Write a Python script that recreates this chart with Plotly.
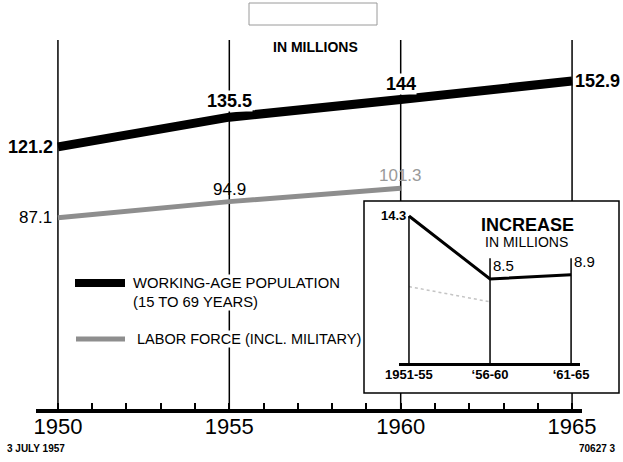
import plotly.graph_objects as go

# ---------------- data ----------------
years = [1950, 1955, 1960, 1965]
working_age = [121.2, 135.5, 144.0, 152.9]
labor_years = [1950, 1955, 1960]
labor_force = [87.1, 94.9, 101.3]
minor_years = list(range(1950, 1966))
year_labels = [str(y) if y % 5 == 0 else "" for y in minor_years]

periods = ["1951-55", "\u201856-60", "\u201861-65"]
working_increase = [14.3, 8.5, 8.9]
labor_increase = [7.8, 6.4]

# ---------------- layout helpers (pixel -> paper) ----------------
W, H = 623, 462
L, R, T, B = 36, 41, 40, 53
PW, PH = W - L - R, H - T - B


def px(x):
    return (x - L) / PW


def py(y):
    return (H - B - y) / PH


FONT = "Liberation Sans"
box_x0, box_x1, box_y0, box_y1 = px(364), px(619), py(393), py(201)

fig = go.Figure()

# main lines
fig.add_trace(go.Scatter(x=years, y=working_age, mode="lines",
                         line=dict(color="black", width=9), name="Working-age population",
                         hoverinfo="x+y"))
fig.add_trace(go.Scatter(x=labor_years, y=labor_force, mode="lines",
                         line=dict(color="#8e8e8e", width=5), name="Labor force",
                         hoverinfo="x+y"))

# inset lines
idx = list(range(len(periods)))
fig.add_trace(go.Scatter(x=idx[:len(labor_increase)], y=labor_increase, mode="lines",
                         xaxis="x2", yaxis="y2",
                         line=dict(color="#c4c4c4", width=1.5, dash="dot"), hoverinfo="y"))
fig.add_trace(go.Scatter(x=idx, y=working_increase, mode="lines",
                         xaxis="x2", yaxis="y2",
                         line=dict(color="black", width=3), hoverinfo="y"))

shapes = []
# inset white box
shapes.append(dict(type="rect", xref="paper", yref="paper", x0=box_x0, x1=box_x1,
                   y0=box_y0, y1=box_y1, line=dict(color="black", width=1.5),
                   fillcolor="white", layer="below"))
# empty header box
shapes.append(dict(type="rect", xref="paper", yref="paper", x0=px(249), x1=px(377),
                   y0=py(25), y1=py(3), line=dict(color="#9a9a9a", width=1)))
# main verticals
for yv in years:
    if yv < 1960:
        segs = [(0, 1)]
    else:
        segs = [(0, box_y0), (box_y1, 1)]
    for a, b in segs:
        shapes.append(dict(type="line", xref="x", yref="paper", x0=yv, x1=yv, y0=a, y1=b,
                           line=dict(color="black", width=1.5), layer="below"))
# inset verticals
inset_ymin = 0.77
for i, v in enumerate(working_increase):
    shapes.append(dict(type="line", xref="x2", yref="y2", x0=i, x1=i, y0=inset_ymin,
                       y1=max(v, 10.4), line=dict(color="black", width=1.5)))
# legend samples
shapes.append(dict(type="line", xref="paper", yref="paper", x0=px(75), x1=px(125),
                   y0=py(283), y1=py(283), line=dict(color="black", width=8)))
shapes.append(dict(type="line", xref="paper", yref="paper", x0=px(76), x1=px(125),
                   y0=py(339), y1=py(339), line=dict(color="#8e8e8e", width=5)))

ann = []
bold = dict(family=FONT, size=18, color="black", weight="bold")
reg = dict(family=FONT, size=17, color="black")


def note(x, y, text, font, xanchor="center", yanchor="middle", **kw):
    d = dict(xref="paper", yref="paper", x=px(x), y=py(y), text=text, font=font,
             xanchor=xanchor, yanchor=yanchor, showarrow=False)
    d.update(kw)
    ann.append(d)


# working-age labels
ann.append(dict(x=years[0], y=working_age[0], text="121.2", xanchor="right", yanchor="middle",
                xshift=-3, showarrow=False, font=bold))
ann.append(dict(x=years[1], y=working_age[1], text="135.5", xanchor="center", yanchor="bottom",
                yshift=5, showarrow=False, font=bold, bgcolor="white", borderpad=0))
ann.append(dict(x=years[2], y=working_age[2], text="144", xanchor="center", yanchor="bottom",
                yshift=4, showarrow=False, font=bold, bgcolor="white", borderpad=0))
ann.append(dict(x=years[3], y=working_age[3], text="152.9", xanchor="left", yanchor="middle",
                xshift=1, showarrow=False, font=bold))
# labor labels
ann.append(dict(x=labor_years[0], y=labor_force[0], text="87.1", xanchor="right", yanchor="middle",
                xshift=-4, showarrow=False, font=reg))
ann.append(dict(x=labor_years[1], y=labor_force[1], text="94.9", xanchor="center", yanchor="bottom",
                yshift=1, showarrow=False, font=reg))
ann.append(dict(x=labor_years[2], y=labor_force[2], text="101.3", xanchor="center", yanchor="bottom",
                yshift=1, showarrow=False, font=dict(family=FONT, size=17, color="#9a9a9a")))

# title
note(315, 47, "IN MILLIONS", dict(family=FONT, size=14, color="black", weight="bold"))
# legend text
note(132, 292, "WORKING-AGE POPULATION<br>(15 TO 69 YEARS)",
     dict(family=FONT, size=14.8, color="black"), xanchor="left", align="left",
     bgcolor="white", borderpad=0)
note(136, 339, "LABOR FORCE (INCL. MILITARY)",
     dict(family=FONT, size=14.5, color="black"), xanchor="left", align="left",
     bgcolor="white", borderpad=0)

# inset texts
note(527, 225, "INCREASE", dict(family=FONT, size=18, color="black", weight="bold"))
note(526, 242, "IN MILLIONS", dict(family=FONT, size=14, color="black"))
ann.append(dict(xref="x2", yref="y2", x=idx[0], y=working_increase[0], text="14.3",
                xanchor="right", yanchor="middle", xshift=-1, showarrow=False,
                font=dict(family=FONT, size=13, color="black", weight="bold")))
for i in (1, 2):
    ann.append(dict(xref="x2", yref="y2", x=idx[i], y=working_increase[i],
                    text=f"{working_increase[i]}", xanchor="left", yanchor="bottom",
                    xshift=1, yshift=3, showarrow=False,
                    font=dict(family=FONT, size=15, color="black")))

# footer
note(5, 448, "3 JULY 1957", dict(family=FONT, size=10, color="black", weight="bold"),
     xanchor="left")
note(618, 448, "70627 3", dict(family=FONT, size=10, color="black", weight="bold"),
     xanchor="right")

fig.update_layout(
    width=W, height=H,
    margin=dict(l=L, r=R, t=T, b=B, pad=0),
    paper_bgcolor="white", plot_bgcolor="rgba(0,0,0,0)",
    showlegend=False,
    xaxis=dict(range=[1949.36, 1965.29], tickvals=minor_years, ticktext=year_labels,
               ticks="inside", ticklen=6, tickwidth=1.5, tickcolor="black",
               showline=True, linewidth=4, linecolor="black", showgrid=False, zeroline=False,
               ticklabelstandoff=-5,
               tickfont=dict(family=FONT, size=22, color="black")),
    yaxis=dict(range=[-4.8, 172.6], visible=False),
    xaxis2=dict(domain=[px(399), px(580)], anchor="y2", range=[-0.123, 2.11],
                tickvals=idx, ticktext=periods, ticks="", showline=True, linewidth=3,
                linecolor="black", showgrid=False, zeroline=False, ticklabelstandoff=-3,
                tickfont=dict(family=FONT, size=13, color="black", weight="bold")),
    yaxis2=dict(domain=[py(363), py(200)], anchor="x2", range=[inset_ymin, 15.77],
                visible=False),
    shapes=shapes, annotations=ann,
)

fig.write_html("out.html", config={"displayModeBar": False},
               post_script="document.body.style.margin='0';document.body.style.padding='0';")
